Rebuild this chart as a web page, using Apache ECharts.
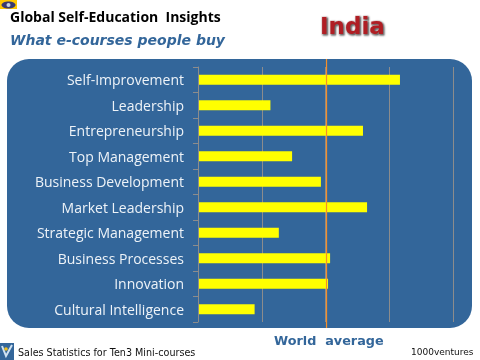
<!DOCTYPE html>
<html><head><meta charset="utf-8">
<style>html,body{margin:0;padding:0;background:#fff}#c{width:480px;height:360px}</style>
<script src="https://cdn.jsdelivr.net/npm/echarts@6/dist/echarts.min.js"></script>
</head><body><div id="c"></div>
<script>
const categories = ["Self-Improvement","Leadership","Entrepreneurship","Top Management","Business Development","Market Leadership","Strategic Management","Business Processes","Innovation","Cultural Intelligence"];
const values = [79.2,28.4,64.7,36.9,48.2,66.3,31.7,51.8,51,22.2];
const worldAverage = 50.4;
const chart = echarts.init(document.getElementById('c'),null,{renderer:'canvas'});
const sans = '"DejaVu Sans"';
chart.setOption({
 animation:false,
 backgroundColor:'#fff',
 title:[
  {text:'Global Self-Education  Insights',left:10,top:11,textStyle:{fontFamily:'"Open Sans"',fontSize:14,fontWeight:'bold',color:'#000'},padding:0},
  {text:'What e-courses people buy',left:10,top:34,textStyle:{fontFamily:sans,fontSize:14,fontWeight:'bold',fontStyle:'italic',color:'#33669a'},padding:0},
  {text:'India',left:320,top:17,textStyle:{fontFamily:sans,fontSize:23,fontWeight:'bold',color:'#b01e24',textBorderColor:'#e9d0d0',textBorderWidth:1,textShadowColor:'rgba(0,0,0,0.6)',textShadowBlur:2,textShadowOffsetX:1,textShadowOffsetY:1},padding:0},
  {text:'World  average',left:274,top:335,textStyle:{fontFamily:sans,fontSize:12.8,fontWeight:'bold',color:'#33669a'},padding:0},
  {text:'Sales Statistics for Ten3 Mini-courses',left:18,top:348,textStyle:{fontFamily:sans,fontSize:9.6,fontWeight:'normal',color:'#111'},padding:0},
  {text:'1000ventures',left:411,top:348,textStyle:{fontFamily:sans,fontSize:9,fontWeight:'normal',color:'#111'},padding:0}
 ],
 graphic:[
  {type:'rect',z:-10,silent:true,shape:{x:7,y:59,width:465,height:269,r:22},style:{fill:'#33669a'}},
  {type:'rect',silent:true,shape:{x:0,y:0,width:17,height:9},style:{fill:'#ffc800'}},
  {type:'ellipse',silent:true,shape:{cx:8.5,cy:5,rx:7,ry:3.5},style:{fill:'#3a3a70'}},
  {type:'circle',silent:true,shape:{cx:8.5,cy:5,r:2},style:{fill:'#c9d4e4'}},
  {type:'rect',silent:true,shape:{x:0,y:343,width:14,height:17},style:{fill:'#33669a'}},
  {type:'polyline',silent:true,shape:{points:[[2,346],[6,356],[12,345]]},style:{fill:null,stroke:'#cfe2f3',lineWidth:2}},
  {type:'circle',silent:true,shape:{cx:6,cy:349,r:1.8},style:{fill:'#f0c020'}}
 ],
 grid:[
  {left:198,top:67,width:255,height:255},
  {left:198,top:59,width:255,height:269}
 ],
 xAxis:[
  {type:'value',gridIndex:0,min:0,max:100,interval:25,axisLabel:{show:false},axisTick:{show:false},axisLine:{show:false},splitLine:{show:true,lineStyle:{color:'#8c8c8c',width:1}}},
  {type:'value',gridIndex:1,min:0,max:100,show:false,splitLine:{show:false}}
 ],
 yAxis:[
  {type:'category',gridIndex:0,data:categories,inverse:true,z:6,
   axisLine:{show:true,lineStyle:{color:'#8c8c8c',width:1}},
   axisTick:{show:true,length:5,lineStyle:{color:'#8c8c8c',width:1}},
   axisLabel:{margin:14,formatter:v=>'{a|'+v+'}',rich:{a:{fontFamily:'"Open Sans"',fontSize:14,color:'#eef3f8',padding:[3,0,0,0]}}},splitLine:{show:false}},
  {type:'value',gridIndex:1,min:0,max:1,show:false,splitLine:{show:false}}
 ],
 series:[
  {type:'bar',xAxisIndex:0,yAxisIndex:0,data:values,barWidth:10,z:3,itemStyle:{color:'#ffff00'},silent:true},
  {type:'line',xAxisIndex:1,yAxisIndex:1,data:[[worldAverage,0],[worldAverage,1]],z:5,silent:true,symbol:'none',lineStyle:{color:'#f58f2a',width:1.2}}
 ]
});
</script></body></html>
